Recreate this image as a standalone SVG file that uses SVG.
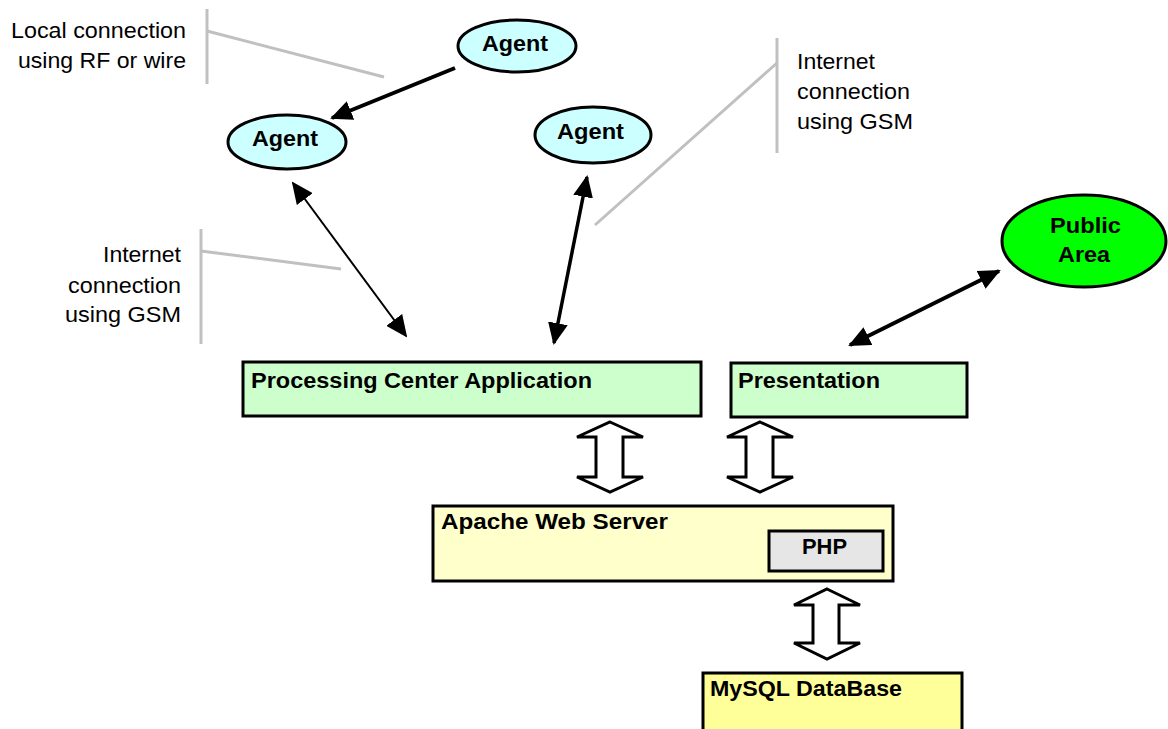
<svg xmlns="http://www.w3.org/2000/svg" width="1168" height="729" viewBox="0 0 1168 729">
<style>
.lbl{font-family:"Liberation Sans",Arial,sans-serif;font-size:22px;fill:#000}
.b{font-weight:bold}
.node{stroke:#000;stroke-width:3}
.callout{stroke:#c0c0c0;stroke-width:3;fill:none}
.conn{stroke:#000;fill:none}
.fat{fill:#fff;stroke:#000;stroke-width:3;stroke-linejoin:miter}
</style>
<defs>
<marker id="ah" viewBox="0 0 22 20" refX="20" refY="10" markerWidth="22" markerHeight="20" markerUnits="userSpaceOnUse" orient="auto-start-reverse">
<path d="M0,0 L22,10 L0,20 z" fill="#000"/>
</marker>
</defs>
<rect width="1168" height="729" fill="#fff"/>

<g id="callouts">
<line class="callout" x1="207" y1="9" x2="207" y2="84"/>
<line class="callout" x1="207" y1="31" x2="384" y2="77"/>
<line class="callout" x1="777" y1="38" x2="777" y2="153"/>
<line class="callout" x1="777" y1="63" x2="595" y2="225"/>
<line class="callout" x1="201" y1="229" x2="201" y2="344"/>
<line class="callout" x1="201" y1="251" x2="341" y2="269"/>
<text class="lbl" x="186" y="38" text-anchor="end" textLength="175" lengthAdjust="spacingAndGlyphs">Local connection</text>
<text class="lbl" x="186" y="68" text-anchor="end" textLength="168" lengthAdjust="spacingAndGlyphs">using RF or wire</text>
<text class="lbl" x="797" y="69" textLength="78" lengthAdjust="spacingAndGlyphs">Internet</text>
<text class="lbl" x="797" y="99" textLength="113" lengthAdjust="spacingAndGlyphs">connection</text>
<text class="lbl" x="797" y="129" textLength="116" lengthAdjust="spacingAndGlyphs">using GSM</text>
<text class="lbl" x="181" y="262" text-anchor="end" textLength="78" lengthAdjust="spacingAndGlyphs">Internet</text>
<text class="lbl" x="181" y="293" text-anchor="end" textLength="113" lengthAdjust="spacingAndGlyphs">connection</text>
<text class="lbl" x="181" y="322" text-anchor="end" textLength="116" lengthAdjust="spacingAndGlyphs">using GSM</text>
</g>

<g id="connectors">
<line class="conn" stroke-width="4" x1="455" y1="68" x2="332" y2="118" marker-end="url(#ah)"/>
<line class="conn" stroke-width="2" x1="293" y1="183" x2="406" y2="336" marker-start="url(#ah)" marker-end="url(#ah)"/>
<line class="conn" stroke-width="3.5" x1="587" y1="177" x2="554" y2="343" marker-start="url(#ah)" marker-end="url(#ah)"/>
<line class="conn" stroke-width="4" x1="850" y1="345" x2="999" y2="271" marker-start="url(#ah)" marker-end="url(#ah)"/>
<polygon class="fat" points="610,422 643,437 623,437 623,477 643,477 610,492 577,477 596,477 596,437 577,437"/>
<polygon class="fat" points="760,422 793,437 773,437 773,477 793,477 760,492 727,477 746,477 746,437 727,437"/>
<polygon class="fat" points="827,589 860,605 839,605 839,643 860,643 827,659 794,643 813,643 813,605 794,605"/>
</g>

<g id="agent-top">
<ellipse class="node" cx="517" cy="46" rx="59" ry="26" fill="#ccffff"/>
<text class="lbl b" x="482" y="51" textLength="66" lengthAdjust="spacingAndGlyphs">Agent</text>
</g>
<g id="agent-left">
<ellipse class="node" cx="287" cy="142" rx="59" ry="27" fill="#ccffff"/>
<text class="lbl b" x="252" y="146" textLength="66" lengthAdjust="spacingAndGlyphs">Agent</text>
</g>
<g id="agent-mid">
<ellipse class="node" cx="593" cy="135" rx="58" ry="28" fill="#ccffff"/>
<text class="lbl b" x="557" y="139" textLength="67" lengthAdjust="spacingAndGlyphs">Agent</text>
</g>
<g id="public-area">
<ellipse class="node" cx="1084" cy="241" rx="82" ry="46" fill="#00ff00"/>
<text class="lbl b" x="1050" y="233" textLength="71" lengthAdjust="spacingAndGlyphs">Public</text>
<text class="lbl b" x="1058" y="262" textLength="52" lengthAdjust="spacingAndGlyphs">Area</text>
</g>
<g id="processing-center">
<rect class="node" x="243" y="362" width="458" height="54" fill="#ccffcc"/>
<text class="lbl b" x="251" y="388" textLength="341" lengthAdjust="spacingAndGlyphs">Processing Center Application</text>
</g>
<g id="presentation">
<rect class="node" x="731" y="363" width="236" height="54" fill="#ccffcc"/>
<text class="lbl b" x="738" y="388" textLength="142" lengthAdjust="spacingAndGlyphs">Presentation</text>
</g>
<g id="apache">
<rect class="node" x="433" y="506" width="460" height="75" fill="#ffffcc"/>
<text class="lbl b" x="441" y="529" textLength="227" lengthAdjust="spacingAndGlyphs">Apache Web Server</text>
</g>
<g id="php">
<rect class="node" x="769" y="531" width="114" height="40" fill="#e6e6e6"/>
<text class="lbl b" x="802" y="554" textLength="45" lengthAdjust="spacingAndGlyphs">PHP</text>
</g>
<g id="mysql">
<rect class="node" x="703" y="673" width="259" height="70" fill="#ffff99"/>
<text class="lbl b" x="710" y="696" textLength="192" lengthAdjust="spacingAndGlyphs">MySQL DataBase</text>
</g>
</svg>
